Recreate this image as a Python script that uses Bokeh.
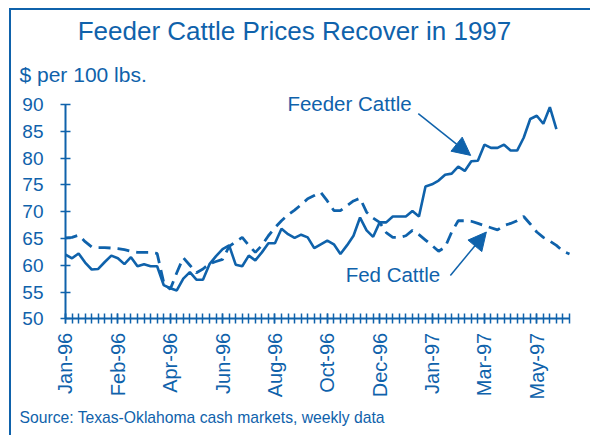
import numpy as np
from bokeh.plotting import figure
from bokeh.models import Range1d, FixedTicker, Label, Arrow, NormalHead
from bokeh.embed import file_html
from bokeh.resources import INLINE

# ---- data ----
tick_labels = ["Jan-96", "Feb-96", "Apr-96", "Jun-96", "Aug-96", "Oct-96",
               "Dec-96", "Jan-97", "Mar-97", "May-97"]
tick_positions = [0, 8, 16, 24, 32, 40, 48, 56, 64, 72]
n_weeks = 78
y_ticks = [50, 55, 60, 65, 70, 75, 80, 85, 90]

feeder = [62.0, 61.3, 62.2, 60.5, 59.2, 59.3, 60.6, 61.8, 61.3, 60.2,
          61.5, 59.8, 60.2, 59.8, 59.8, 56.3, 55.7, 55.3, 57.5, 58.7,
          57.3, 57.3, 60.2, 61.7, 63.0, 63.7, 60.1, 59.8, 61.8, 60.9,
          62.4, 64.1, 64.1, 66.8, 65.8, 65.1, 65.7, 65.2, 63.2, 63.9,
          64.6, 63.9, 62.1, 63.7, 65.5, 68.9, 66.5, 65.3, 68.0, 68.0,
          69.1, 69.1, 69.1, 70.1, 69.1, 74.7, 75.1, 75.8, 76.9, 77.1,
          78.4, 77.6, 79.4, 79.5, 82.5, 81.9, 81.9, 82.5, 81.4, 81.4,
          83.8, 87.3, 87.9, 86.4, 89.5, 85.4]

fed = [65.1, 65.2, 65.6, 64.4, 63.4, 63.3, 63.3, 63.2, 63.1, 62.9,
       62.6, 62.4, 62.4, 62.4, 62.2, 56.8, 55.5, 58.6, 61.4, 60.0,
       58.6, 59.3, 60.3, 60.7, 61.1, 63.5, 64.4, 65.2, 63.7, 62.4,
       63.7, 65.5, 67.0, 68.3, 69.4, 70.3, 71.3, 72.4, 73.0, 73.6,
       72.0, 70.2, 70.2, 71.1, 72.0, 72.5, 69.9, 68.8, 68.0, 66.1,
       65.2, 65.2, 65.5, 66.5, 65.7, 64.7, 63.7, 62.6, 63.4, 66.2,
       68.3, 68.3, 68.2, 67.8, 67.4, 67.0, 66.6, 67.4, 67.8, 68.3,
       69.1, 67.7, 66.2, 65.2, 64.5, 63.7, 62.6, 62.1]

BLUE = "#0f62ab"
FONT = "Liberation Sans"

# canvas geometry (pixels)
W, H = 581, 427
AX_LEFT, AX_RIGHT = 54, 558      # canvas x of week 0 and last week
AX_TOP, AX_BOTTOM = 94, 308.3    # canvas y of 90 and 50

ppx = (AX_RIGHT - AX_LEFT) / (n_weeks - 1)
ppy = (AX_BOTTOM - AX_TOP) / (90 - 50)
x0 = -AX_LEFT / ppx
x1 = (n_weeks - 1) + (W - AX_RIGHT) / ppx
y1 = 90 + AX_TOP / ppy
y0 = 50 - (H - AX_BOTTOM) / ppy

p = figure(width=W, height=H, output_backend="svg", toolbar_location=None,
           title=None, x_range=Range1d(x0, x1), y_range=Range1d(y0, y1),
           min_border=0, min_border_left=0, min_border_right=0,
           min_border_top=0, min_border_bottom=0)
p.styles = {"margin-left": "9px", "margin-top": "8px",
            "border-left": f"2px solid {BLUE}", "border-top": f"2px solid {BLUE}"}
p.outline_line_color = None
p.xgrid.grid_line_color = None
p.ygrid.grid_line_color = None
p.background_fill_color = "white"
p.border_fill_color = "white"

# x axis
xa = p.xaxis[0]
xa.fixed_location = 50
xa.bounds = (0, n_weeks - 1)
xa.ticker = FixedTicker(ticks=tick_positions, minor_ticks=list(range(n_weeks)))
xa.major_label_overrides = {t: lab for t, lab in zip(tick_positions, tick_labels)}
xa.major_label_orientation = np.pi / 2
xa.axis_line_color = BLUE
xa.axis_line_width = 2
xa.major_tick_line_color = BLUE
xa.minor_tick_line_color = BLUE
xa.major_tick_line_width = 1.5
xa.minor_tick_line_width = 1.5
xa.major_tick_in = 5
xa.major_tick_out = 5
xa.minor_tick_in = 5
xa.minor_tick_out = 5
xa.major_label_standoff = 9
xa.major_label_text_color = BLUE
xa.major_label_text_font = FONT
xa.major_label_text_font_size = "20px"

# y axis
ya = p.yaxis[0]
ya.fixed_location = 0
ya.bounds = (50, 90)
ya.ticker = FixedTicker(ticks=y_ticks)
ya.axis_line_color = BLUE
ya.axis_line_width = 2
ya.major_tick_line_color = BLUE
ya.major_tick_line_width = 1.5
ya.major_tick_in = 5
ya.major_tick_out = 5
ya.minor_tick_line_color = None
ya.major_label_standoff = 17
ya.major_label_text_color = BLUE
ya.major_label_text_font = FONT
ya.major_label_text_font_size = "19px"

# series
x_feeder = list(range(len(feeder)))
x_fed = list(range(len(fed)))
p.line(x_fed, fed, line_color=BLUE, line_width=2.8, line_dash="12 7")
p.line(x_feeder, feeder, line_color=BLUE, line_width=2.6)

# annotations
p.add_layout(Label(x=33.9, y=90.2, text="Feeder Cattle", text_color=BLUE,
                   text_font=FONT, text_font_size="20.5px",
                   text_baseline="alphabetic"))
p.add_layout(Label(x=42.8, y=58.3, text="Fed Cattle", text_color=BLUE,
                   text_font=FONT, text_font_size="20.5px",
                   text_baseline="alphabetic"))
p.add_layout(Arrow(end=NormalHead(size=18, fill_color=BLUE, line_color=BLUE),
                   x_start=53.9, y_start=88.3, x_end=61.9, y_end=80.5,
                   line_color=BLUE, line_width=1.5))
p.add_layout(Arrow(end=NormalHead(size=18, fill_color=BLUE, line_color=BLUE),
                   x_start=58.8, y_start=58.1, x_end=64.3, y_end=66.2,
                   line_color=BLUE, line_width=1.5))

# titles and notes (screen units, frame == whole canvas)
p.add_layout(Label(x=283, y=H - 20, x_units="screen", y_units="screen",
                   text="Feeder Cattle Prices Recover in 1997", text_color=BLUE,
                   text_font=FONT, text_font_size="26px", text_align="center",
                   text_baseline="alphabetic"))
p.add_layout(Label(x=8, y=H - 64, x_units="screen", y_units="screen",
                   text="$ per 100 lbs.", text_color=BLUE, text_font=FONT,
                   text_font_size="21px", text_baseline="alphabetic"))
p.add_layout(Label(x=8, y=H - 407, x_units="screen", y_units="screen",
                   text="Source: Texas-Oklahoma cash markets, weekly data",
                   text_color=BLUE, text_font=FONT, text_font_size="15.7px",
                   text_baseline="alphabetic"))

open("out.html", "w").write(file_html(p, INLINE))
